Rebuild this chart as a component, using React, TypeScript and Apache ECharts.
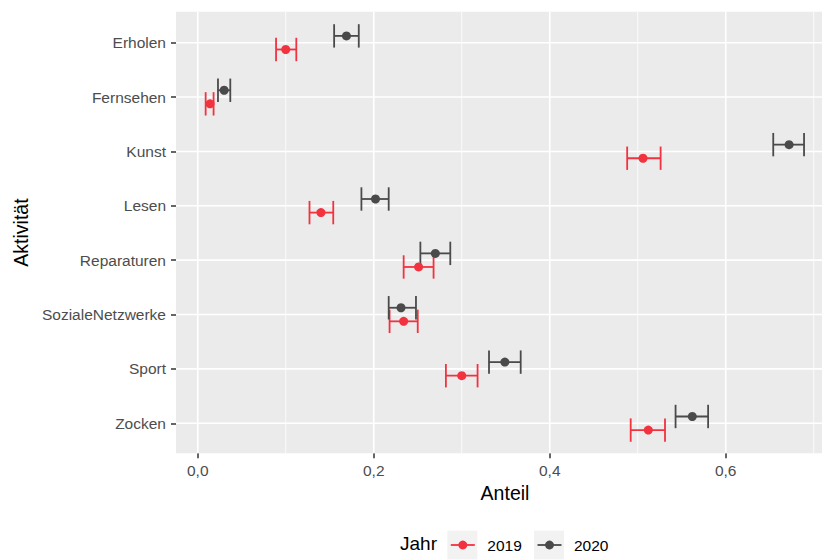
import React, { useEffect, useRef } from "react";
import * as echarts from "echarts";

const categories = ["Erholen", "Fernsehen", "Kunst", "Lesen", "Reparaturen", "SozialeNetzwerke", "Sport", "Zocken"];
const years = ["2019", "2020"];

const anteil2019 = [0.100, 0.014, 0.506, 0.140, 0.251, 0.234, 0.300, 0.512];
const lower2019 = [0.089, 0.009, 0.488, 0.127, 0.234, 0.218, 0.282, 0.492];
const upper2019 = [0.112, 0.018, 0.526, 0.154, 0.268, 0.250, 0.318, 0.531];

const anteil2020 = [0.169, 0.030, 0.672, 0.202, 0.270, 0.231, 0.349, 0.562];
const lower2020 = [0.155, 0.023, 0.654, 0.186, 0.253, 0.217, 0.331, 0.543];
const upper2020 = [0.183, 0.037, 0.689, 0.217, 0.287, 0.248, 0.367, 0.580];

const xMajorTicks = [0, 0.2, 0.4, 0.6];
const xMinorTicks = [0.1, 0.3, 0.5, 0.7];
const yTicks = categories.map((_, i) => i);

const RED = "#F2323F";
const GREY = "#4A4A4A";
const FONT = "'Liberation Sans', Arial, Helvetica, sans-serif";
const DODGE = 0.125;
const CAP = 0.215;

function errorRenderer(color: string) {
  return (params: any, api: any) => {
    const y = api.value(0);
    const lo = api.value(1);
    const hi = api.value(2);
    const a = api.coord([lo, y]);
    const b = api.coord([hi, y]);
    const t = api.coord([lo, y - CAP]);
    const u = api.coord([lo, y + CAP]);
    const y1 = Math.min(t[1], u[1]);
    const y2 = Math.max(t[1], u[1]);
    const style = { stroke: color, lineWidth: 1.8 };
    return {
      type: "group",
      children: [
        { type: "line", shape: { x1: a[0], y1: a[1], x2: b[0], y2: b[1] }, style },
        { type: "line", shape: { x1: a[0], y1, x2: a[0], y2 }, style },
        { type: "line", shape: { x1: b[0], y1, x2: b[0], y2 }, style },
      ],
    };
  };
}

function gridRenderer(params: any, api: any) {
  const cs = params.coordSys;
  const children: any[] = [];
  xMinorTicks.forEach((v) => {
    const p = api.coord([v, 0]);
    children.push({ type: "line", shape: { x1: p[0], y1: cs.y, x2: p[0], y2: cs.y + cs.height }, style: { stroke: "#FFFFFF", lineWidth: 0.8 } });
  });
  xMajorTicks.forEach((v) => {
    const p = api.coord([v, 0]);
    children.push({ type: "line", shape: { x1: p[0], y1: cs.y, x2: p[0], y2: cs.y + cs.height }, style: { stroke: "#FFFFFF", lineWidth: 1.6 } });
  });
  yTicks.forEach((v) => {
    const p = api.coord([0, v]);
    children.push({ type: "line", shape: { x1: cs.x, y1: p[1], x2: cs.x + cs.width, y2: p[1] }, style: { stroke: "#FFFFFF", lineWidth: 1.6 } });
  });
  return { type: "group", children };
}

function legendGraphic() {
  const cy = 545;
  const items: any[] = [
    { type: "text", left: 400, top: cy - 11, style: { text: "Jahr", fontSize: 19, fill: "#000000", fontFamily: FONT } },
  ];
  const keys = [
    { x: 447.3, color: RED, label: years[0], tx: 487.3 },
    { x: 534, color: GREY, label: years[1], tx: 574 },
  ];
  keys.forEach((k) => {
    items.push({ type: "rect", shape: { x: k.x, y: 530.7, width: 30, height: 28.7 }, style: { fill: "#F2F2F2" } });
    items.push({ type: "line", shape: { x1: k.x + 3.5, y1: cy, x2: k.x + 27.5, y2: cy }, style: { stroke: k.color, lineWidth: 1.8 } });
    items.push({ type: "circle", shape: { cx: k.x + 15.5, cy, r: 4.4 }, style: { fill: k.color } });
    items.push({ type: "text", x: k.tx, y: cy, style: { text: k.label, fontSize: 15.5, fill: "#000000", fontFamily: FONT, verticalAlign: "middle" } });
  });
  return items;
}

export default function App() {
  const ref = useRef<HTMLDivElement>(null);
  useEffect(() => {
    if (!ref.current) return;
    const chart = echarts.init(ref.current, undefined, { renderer: "svg" });
    const fmt = (v: number) => v.toFixed(1).replace(".", ",");
    chart.setOption({
      animation: false,
      backgroundColor: "#FFFFFF",
      textStyle: { fontFamily: FONT },
      grid: {
        show: true,
        left: 176,
        right: 0,
        top: 11.7,
        bottom: 106.7,
        backgroundColor: "#EBEBEB",
        borderWidth: 0,
        containLabel: false,
        z: 0,
      },
      xAxis: {
        type: "value",
        min: -0.0247,
        max: 0.7094,
        axisLine: { show: false, onZero: false },
        axisTick: { show: true, customValues: xMajorTicks, length: 5, lineStyle: { color: "#333333", width: 1.5 } },
        axisLabel: { customValues: xMajorTicks, formatter: fmt, fontSize: 15.5, color: "#4D4D4D", margin: 9, fontFamily: FONT },
        splitLine: { show: false },
        name: "Anteil",
        nameLocation: "middle",
        nameGap: 25,
        nameTextStyle: { fontSize: 19.5, color: "#000000", fontFamily: FONT, padding: [0, 0, 0, 12] },
      },
      yAxis: {
        type: "value",
        inverse: true,
        min: -0.57,
        max: 7.552,
        axisLine: { show: false, onZero: false },
        axisTick: { show: true, customValues: yTicks, length: 5, lineStyle: { color: "#333333", width: 1.5 } },
        axisLabel: {
          customValues: yTicks,
          formatter: (v: number) => categories[Math.round(v)] ?? "",
          fontSize: 15.5,
          color: "#4D4D4D",
          margin: 10,
          fontFamily: FONT,
        },
        splitLine: { show: false },
        name: "Aktivität",
        nameLocation: "middle",
        nameGap: 136,
        nameTextStyle: { fontSize: 19.5, color: "#000000", fontFamily: FONT },
      },
      graphic: legendGraphic(),
      series: [
        {
          type: "custom",
          name: "grid",
          silent: true,
          z: 1,
          renderItem: gridRenderer,
          data: [[0, 0]],
          encode: { x: 0, y: 1 },
        },
        {
          type: "custom",
          name: years[0] + " error",
          z: 2,
          renderItem: errorRenderer(RED),
          encode: { x: [1, 2], y: 0 },
          data: categories.map((_, i) => [i + DODGE, lower2019[i], upper2019[i]]),
        },
        {
          type: "custom",
          name: years[1] + " error",
          z: 2,
          renderItem: errorRenderer(GREY),
          encode: { x: [1, 2], y: 0 },
          data: categories.map((_, i) => [i - DODGE, lower2020[i], upper2020[i]]),
        },
        {
          type: "scatter",
          name: years[0],
          z: 3,
          symbolSize: 9,
          itemStyle: { color: RED, opacity: 1 },
          data: categories.map((_, i) => [anteil2019[i], i + DODGE]),
        },
        {
          type: "scatter",
          name: years[1],
          z: 3,
          symbolSize: 9,
          itemStyle: { color: GREY, opacity: 1 },
          data: categories.map((_, i) => [anteil2020[i], i - DODGE]),
        },
      ],
    });
    return () => chart.dispose();
  }, []);
  return <div ref={ref} style={{ position: "fixed", left: 0, top: 0, width: 822, height: 560 }} />;
}
